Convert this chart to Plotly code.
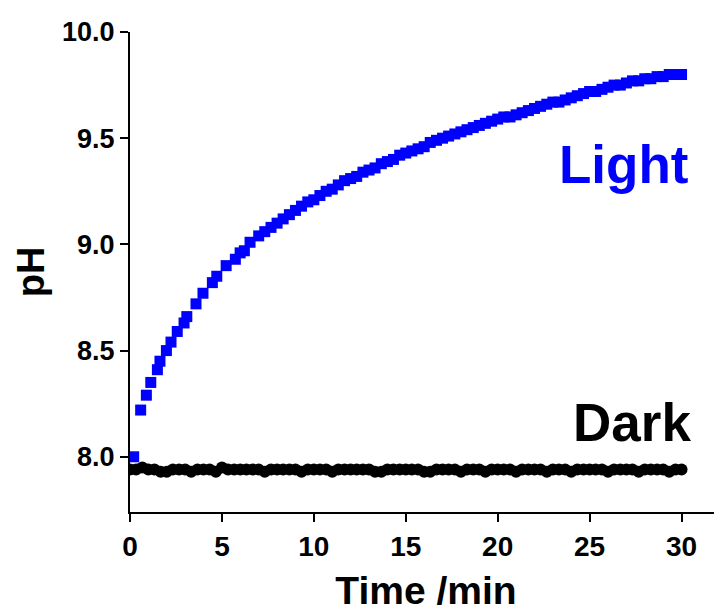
import plotly.graph_objects as go

# Light series (time in min, pH)
light_time = [0.2, 0.58, 0.89, 1.13, 1.49, 1.63, 1.98, 2.23, 2.57, 2.94,
              3.09, 3.59, 3.97, 4.48, 4.72, 5.23, 5.73, 5.99, 6.22, 6.53,
              7.0, 7.33, 7.67, 8.0, 8.33, 8.67, 9.0, 9.33, 9.67,
              10.0, 10.33, 10.67, 11.0, 11.33, 11.67, 12.0, 12.33, 12.67,
              13.0, 13.33, 13.67, 14.0, 14.33, 14.67, 15.0, 15.33, 15.67,
              16.0, 16.33, 16.67, 17.0, 17.33, 17.67, 18.0, 18.33, 18.67,
              19.0, 19.33, 19.67, 20.0, 20.33, 20.67, 21.0, 21.33, 21.67,
              22.0, 22.33, 22.67, 23.0, 23.33, 23.67, 24.0, 24.33, 24.67,
              25.0, 25.33, 25.67, 26.0, 26.33, 26.67, 27.0, 27.33, 27.67,
              28.0, 28.33, 28.67, 29.0, 29.33, 29.67, 30.0]
light_ph = [8.00, 8.22, 8.29, 8.35, 8.41, 8.45, 8.50, 8.54, 8.59, 8.63,
            8.66, 8.72, 8.77, 8.82, 8.85, 8.90, 8.93, 8.96, 8.97, 9.01,
            9.04, 9.06, 9.08, 9.10, 9.12, 9.14, 9.16, 9.18, 9.20,
            9.21, 9.23, 9.25, 9.26, 9.28, 9.30, 9.31, 9.32, 9.34,
            9.35, 9.36, 9.38, 9.39, 9.40, 9.42, 9.43, 9.44, 9.45,
            9.46, 9.48, 9.49, 9.50, 9.51, 9.52, 9.53, 9.54, 9.55,
            9.56, 9.57, 9.58, 9.59, 9.60, 9.60, 9.61, 9.62, 9.63,
            9.64, 9.65, 9.66, 9.67, 9.67, 9.68, 9.69, 9.70, 9.71,
            9.72, 9.72, 9.73, 9.74, 9.75, 9.75, 9.76, 9.77, 9.77,
            9.78, 9.78, 9.79, 9.79, 9.80, 9.80, 9.80]

# Dark series
dark_time = [0.0, 0.33, 0.67, 1.0, 1.33, 1.67, 2.0, 2.33, 2.67, 3.0,
             3.33, 3.67, 4.0, 4.33, 4.67, 5.0, 5.33, 5.67, 6.0, 6.33,
             6.67, 7.0, 7.33, 7.67, 8.0, 8.33, 8.67, 9.0, 9.33, 9.67,
             10.0, 10.33, 10.67, 11.0, 11.33, 11.67, 12.0, 12.33, 12.67, 13.0,
             13.33, 13.67, 14.0, 14.33, 14.67, 15.0, 15.33, 15.67, 16.0, 16.33,
             16.67, 17.0, 17.33, 17.67, 18.0, 18.33, 18.67, 19.0, 19.33, 19.67,
             20.0, 20.33, 20.67, 21.0, 21.33, 21.67, 22.0, 22.33, 22.67, 23.0,
             23.33, 23.67, 24.0, 24.33, 24.67, 25.0, 25.33, 25.67, 26.0, 26.33,
             26.67, 27.0, 27.33, 27.67, 28.0, 28.33, 28.67, 29.0, 29.33, 29.67, 30.0]
dark_ph = [7.94, 7.94, 7.95, 7.94, 7.94, 7.93, 7.93, 7.94, 7.94, 7.94,
           7.93, 7.94, 7.94, 7.94, 7.93, 7.95, 7.94, 7.94, 7.94, 7.94,
           7.94, 7.94, 7.93, 7.94, 7.94, 7.94, 7.94, 7.94, 7.93, 7.94,
           7.94, 7.94, 7.94, 7.93, 7.94, 7.94, 7.94, 7.94, 7.94, 7.94,
           7.93, 7.93, 7.94, 7.94, 7.94, 7.94, 7.94, 7.94, 7.93, 7.93,
           7.94, 7.94, 7.94, 7.94, 7.93, 7.94, 7.94, 7.94, 7.93, 7.94,
           7.94, 7.94, 7.94, 7.93, 7.94, 7.94, 7.94, 7.94, 7.93, 7.94,
           7.94, 7.94, 7.93, 7.94, 7.94, 7.94, 7.94, 7.94, 7.93, 7.94,
           7.94, 7.94, 7.94, 7.93, 7.94, 7.94, 7.94, 7.94, 7.93, 7.94, 7.94]

x_ticks = [0, 5, 10, 15, 20, 25, 30]
y_ticks = [8.0, 8.5, 9.0, 9.5, 10.0]

FONT = "Liberation Sans, Arial, sans-serif"

fig = go.Figure()
fig.add_trace(go.Scatter(x=dark_time, y=dark_ph, mode="markers", name="Dark",
                         marker=dict(symbol="circle", size=12, color="black",
                                     line=dict(width=0))))
fig.add_trace(go.Scatter(x=light_time, y=light_ph, mode="markers", name="Light",
                         marker=dict(symbol="square", size=11, color="#0000FF",
                                     line=dict(width=0))))

fig.add_annotation(x=26.86, y=9.376, text="Light", showarrow=False,
                   xanchor="center", yanchor="middle",
                   font=dict(family=FONT, size=53, color="#0000FF", weight="bold"))
fig.add_annotation(x=27.28, y=8.161, text="Dark", showarrow=False,
                   xanchor="center", yanchor="middle",
                   font=dict(family=FONT, size=53, color="black", weight="bold"))

# the page puts the figure 8 px in from the top-left corner
fig.update_layout(
    width=714, height=604,
    margin=dict(l=122, r=0, t=24, b=100, autoexpand=False),
    paper_bgcolor="white", plot_bgcolor="white",
    showlegend=False,
    font=dict(family=FONT, color="black"),
)
fig.update_xaxes(
    range=[0, 32.2], tickvals=x_ticks, ticktext=[str(v) for v in x_ticks],
    showgrid=False, zeroline=False, automargin=False,
    showline=True, linecolor="black", linewidth=2,
    ticks="outside", ticklen=8, tickwidth=2, tickcolor="black",
    tickfont=dict(family=FONT, size=28, weight="bold"),
    title=dict(text="Time /min", font=dict(family=FONT, size=39, weight="bold"), standoff=24),
)
fig.update_yaxes(
    range=[7.74, 10.0], tickvals=y_ticks, ticktext=[f"{v:.1f}" for v in y_ticks],
    showgrid=False, zeroline=False, automargin=False,
    showline=True, linecolor="black", linewidth=2,
    ticks="outside", ticklen=8, tickwidth=2, tickcolor="black",
    tickfont=dict(family=FONT, size=27, weight="bold"),
    title=dict(text="pH", font=dict(family=FONT, size=38, weight="bold"), standoff=6),
)

fig.write_html("out.html")
